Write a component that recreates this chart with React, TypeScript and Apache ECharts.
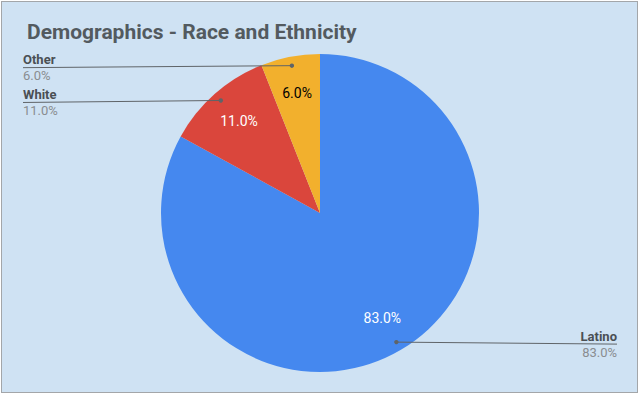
import React, { useEffect, useRef } from "react";
import * as echarts from "echarts";

const titleText = "Demographics - Race and Ethnicity";
const categories = ["Latino", "White", "Other"];
const values = [83, 11, 6];
const colors = ["#4588ef", "#da463c", "#f2b02d"];
const insideLabelColors = ["#ffffff", "#ffffff", "#000000"];

const CX = 320;
const CY = 213;
const R = 159;
const ANCHOR_R = 150;
const FONT = "Roboto, 'Noto Sans', sans-serif";

function midAngle(i: number): number {
  const total = values.reduce((a, b) => a + b, 0);
  let before = 0;
  for (let k = 0; k < i; k++) before += values[k];
  return ((before + values[i] / 2) / total) * Math.PI * 2; // clockwise from top
}

function anchor(i: number): [number, number] {
  const a = midAngle(i);
  return [CX + ANCHOR_R * Math.sin(a), CY - ANCHOR_R * Math.cos(a)];
}

export default function App() {
  const ref = useRef<HTMLDivElement>(null);
  useEffect(() => {
    document.body.style.margin = "0";
    const chart = echarts.init(ref.current!, null, { renderer: "svg" });
    const total = values.reduce((a, b) => a + b, 0);
    const data = categories.map((name, i) => ({ name, value: values[i] }));
    chart.setOption({
      animation: false,
      backgroundColor: "transparent",
      title: {
        text: titleText,
        left: 22,
        top: 16,
        textStyle: { fontFamily: FONT, fontSize: 21, fontWeight: "bold", color: "#535a5f" },
      },
      series: [
        {
          type: "pie",
          z: 1,
          center: [CX, CY],
          radius: R,
          startAngle: 90,
          clockwise: true,
          silent: true,
          data: data.map((d, i) => ({ ...d, itemStyle: { color: colors[i] } })),
          label: { show: false },
          labelLine: { show: false },
        },
        {
          type: "pie",
          z: 3,
          center: [CX, CY],
          radius: [80, R],
          startAngle: 90,
          clockwise: true,
          silent: true,
          itemStyle: { color: "rgba(0,0,0,0)" },
          data: data.map((d, i) => ({ ...d, label: { color: insideLabelColors[i] } })),
          label: {
            show: true,
            position: "inside",
            fontFamily: FONT,
            fontSize: 14,
            formatter: (p: any) => ((p.value / total) * 100).toFixed(1) + "%",
          },
          labelLine: { show: false },
        },
        {
          type: "pie",
          z: 5,
          center: [CX, CY],
          radius: ANCHOR_R,
          startAngle: 90,
          clockwise: true,
          silent: true,
          itemStyle: { color: "rgba(0,0,0,0)" },
          data,
          label: {
            show: true,
            position: "outside",
            formatter: (p: any) => `{n|${p.name}}\n{v|${((p.value / total) * 100).toFixed(1)}%}`,
            rich: {
              n: { fontFamily: FONT, fontSize: 13, fontWeight: "bold", color: "#4a4f53", lineHeight: 16 },
              v: { fontFamily: FONT, fontSize: 13, color: "#8a8d90", lineHeight: 16 },
            },
          },
          labelLine: { show: true, showAbove: true, length: 10, length2: 10, lineStyle: { color: "#5f6468", width: 1 } },
          labelLayout: (params: any) => {
            const p0 = anchor(params.dataIndex);
            const left = p0[0] < CX;
            const x = left ? 23 : 617;
            const y = p0[1] + 2;
            return {
              x,
              y,
              align: left ? "left" : "right",
              verticalAlign: "middle",
              labelLinePoints: [p0, [x, y]],
            };
          },
        },
        {
          type: "custom",
          coordinateSystem: "none",
          silent: true,
          z: 10,
          data: [[0], [1], [2]],
          renderItem: (params: any) => {
            const a = anchor(params.dataIndex);
            return {
              type: "circle",
              z2: 100,
              shape: { cx: a[0], cy: a[1], r: 2.2 },
              style: { fill: "#5f6468", stroke: "none" },
            };
          },
        },
      ],
    });
    return () => chart.dispose();
  }, []);
  return (
    <div style={{ position: "relative", width: 640, height: 394, background: "#ffffff", overflow: "hidden" }}>
      <div
        style={{
          position: "absolute",
          left: 1,
          top: 1,
          width: 637,
          height: 392,
          boxSizing: "border-box",
          border: "1px solid #a3a6a9",
          background: "#cfe2f3",
        }}
      />
      <div ref={ref} style={{ position: "absolute", left: 0, top: 0, width: 640, height: 394 }} />
    </div>
  );
}
